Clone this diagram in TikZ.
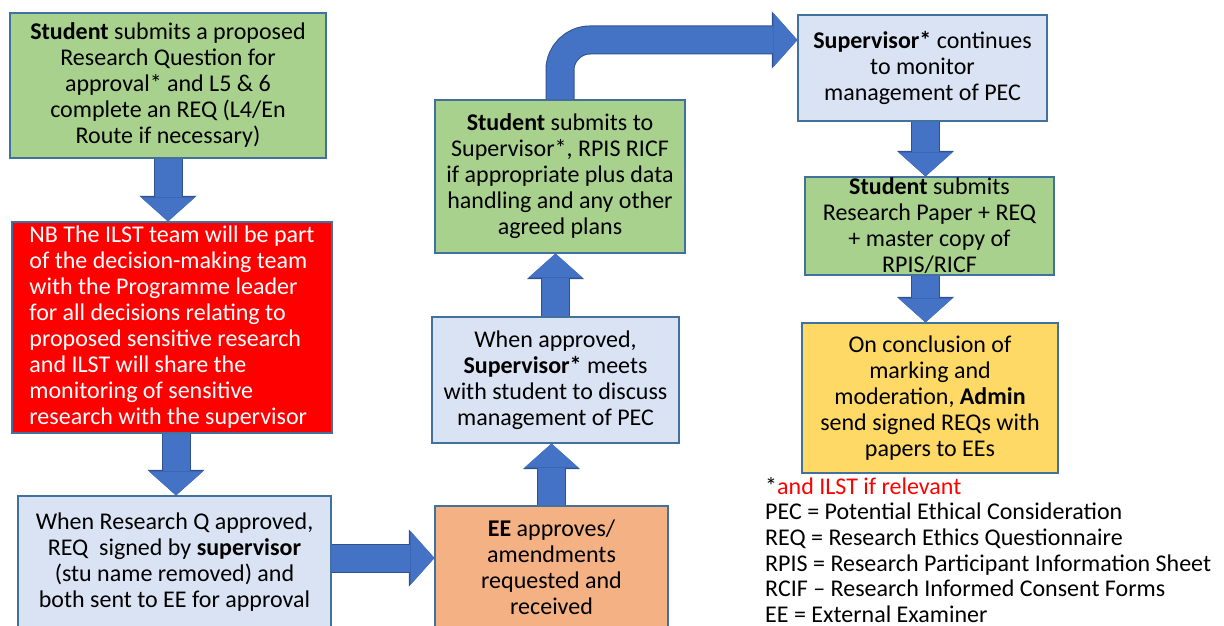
\documentclass[tikz,border=0pt]{standalone}
\usepackage{fontspec}
\setmainfont{Carlito}
\usepackage{xcolor}
\usetikzlibrary{positioning,arrows.meta,calc}

\definecolor{boxgreen}{HTML}{A9D18E}
\definecolor{boxblue}{HTML}{DAE3F3}
\definecolor{boxorange}{HTML}{F4B183}
\definecolor{boxyellow}{HTML}{FFD966}
\definecolor{boxred}{HTML}{FF0000}
\definecolor{boxline}{HTML}{41719C}
\definecolor{arrowblue}{HTML}{4472C4}
\definecolor{arrowedge}{HTML}{2F528F}

\tikzset{
  box/.style={draw=boxline,line width=1.2pt,align=center,inner sep=0pt,
    font=\fontsize{24}{26}\selectfont},
  greenbox/.style={box,fill=boxgreen},
  bluebox/.style={box,fill=boxblue},
  orangebox/.style={box,fill=boxorange},
  yellowbox/.style={box,fill=boxyellow},
  redbox/.style={box,fill=boxred,text=white,align=left},
  fatarrow/.style={arrowblue,line width=27pt,
    -{Triangle[width=54pt,length=24pt,line width=0pt]},
    preaction={draw=arrowedge,line width=29pt,
      -{Triangle[width=57pt,length=25.5pt,line width=0pt]}}}
}

\begin{document}
\begin{tikzpicture}[x=1pt,y=-1pt]
  \useasboundingbox (0,0) rectangle (1224,626);
  \clip (0,0) rectangle (1224,626);
  % left column
  \node[greenbox,minimum width=316pt,minimum height=145pt] (stuq) at (168,85.5)
    {\textbf{Student} submits a proposed\\Research Question for\\approval* and L5 \& 6\\complete an REQ (L4/En\\Route if necessary)};
  \node[redbox,minimum width=320pt,minimum height=211pt] (ilst) at (172,327.5)
    {NB The ILST team will be part\\of the decision-making team\\with the Programme leader\\for all decisions relating to\\proposed sensitive research\\and ILST will share the\\monitoring of sensitive\\research with the supervisor};
  \node[bluebox,minimum width=313pt,minimum height=132pt] (signed) at (174.5,562)
    {When Research Q approved,\\REQ\ \ signed by \textbf{supervisor}\\(stu name removed) and\\both sent to EE for approval};
  % middle column
  \node[orangebox,minimum width=233pt,minimum height=122pt] (eeok) at (551.5,567)
    {\textbf{EE} approves/\\amendments\\requested and\\received};
  \node[bluebox,minimum width=247pt,minimum height=126pt] (meets) at (555.5,380)
    {When approved,\\\textbf{Supervisor*} meets\\with student to discuss\\management of PEC};
  \node[greenbox,minimum width=250pt,minimum height=153pt] (stusub) at (560,176.5)
    {\textbf{Student} submits to\\Supervisor*, RPIS RICF\\if appropriate plus data\\handling and any other\\agreed plans};
  % right column
  \node[bluebox,minimum width=249pt,minimum height=106pt] (monitor) at (922.5,68)
    {\textbf{Supervisor*} continues\\to monitor\\management of PEC};
  \node[greenbox,minimum width=249pt,minimum height=98pt] (paper) at (929.5,226)
    {\textbf{Student} submits\\Research Paper + REQ\\+ master copy of\\RPIS/RICF};
  \node[yellowbox,minimum width=256pt,minimum height=150pt] (admin) at (930,398)
    {On conclusion of\\marking and\\moderation, \textbf{Admin}\\send signed REQs with\\papers to EEs};
  % key
  \node[anchor=north west,align=left,inner sep=0pt,
    font=\fontsize{24}{25.6}\selectfont] (key) at (765,477)
    {*\textcolor{boxred}{and ILST if relevant}\\
     PEC = Potential Ethical Consideration\\
     REQ = Research Ethics Questionnaire\\
     RPIS = Research Participant Information Sheet\\
     RCIF -- Research Informed Consent Forms\\
     EE = External Examiner};
  % arrows
  \draw[fatarrow] (stuq.south) -- (stuq.south |- ilst.north);
  \draw[fatarrow] ([xshift=4pt]ilst.south) -- ([xshift=4pt]ilst.south |- signed.north);
  \draw[fatarrow] ([yshift=4pt]signed.east) -- ([yshift=4pt]signed.east -| eeok.west);
  \draw[fatarrow] (eeok.north) -- (eeok.north |- meets.south);
  \draw[fatarrow] (meets.north) -- (meets.north |- stusub.south);
  \draw[fatarrow,rounded corners=30pt] (stusub.north) |- ([yshift=28pt]monitor.west);
  \draw[fatarrow] ([xshift=3pt]monitor.south) -- ([xshift=3pt]monitor.south |- paper.north);
  \draw[fatarrow] ([xshift=-4pt]paper.south) -- ([xshift=-4pt]paper.south |- admin.north);
\end{tikzpicture}
\end{document}
